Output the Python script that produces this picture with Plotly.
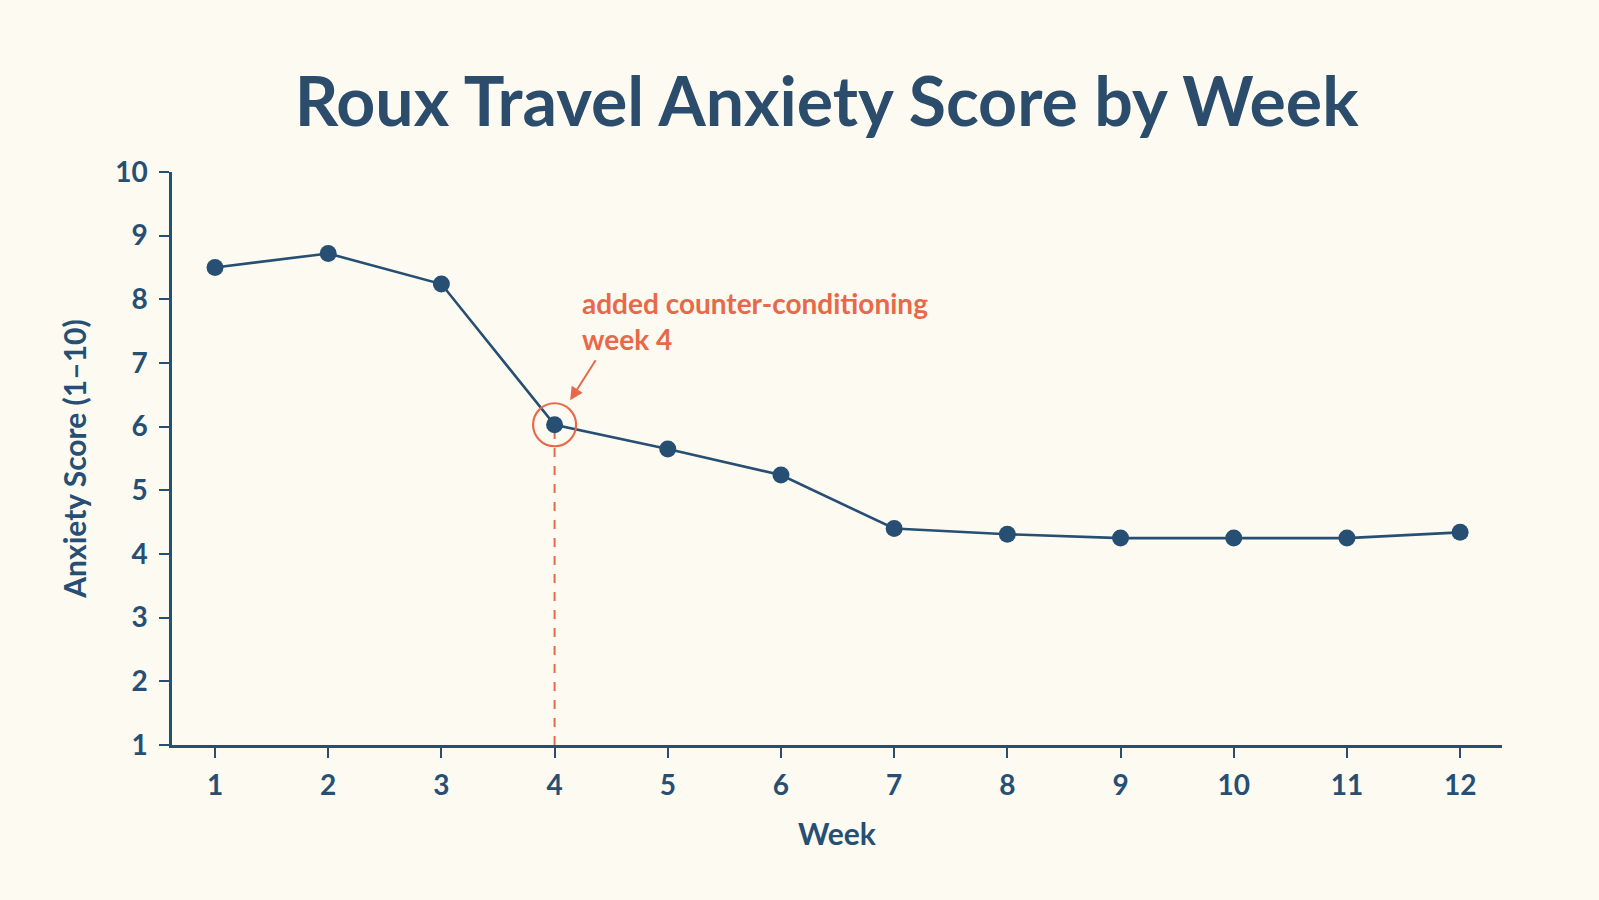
"""Line chart: weekly travel anxiety score for Roux."""
import plotly.graph_objects as go

weeks = list(range(1, 13))
scores = [8.5, 8.72, 8.24, 6.03, 5.65, 5.24, 4.4, 4.31, 4.25, 4.25, 4.25, 4.34]
y_ticks = list(range(1, 11))

event_week = 4
event_label = "added counter-conditioning<br>week 4"

NAVY = "#264f73"
ORANGE = "#e8694a"
BG = "#fdfaf2"
FONT = "Lato"

event_score = scores[weeks.index(event_week)]

fig = go.Figure()

# dashed marker line from the event point down to the axis
fig.add_shape(
    type="line",
    x0=event_week, x1=event_week,
    y0=y_ticks[0], y1=event_score,
    line=dict(color=ORANGE, width=2, dash="dash"),
    layer="below",
)

fig.add_trace(go.Scatter(
    x=weeks,
    y=scores,
    mode="lines+markers",
    line=dict(color=NAVY, width=2.6),
    marker=dict(color=NAVY, size=17),
    showlegend=False,
))

# ring highlighting the event week
fig.add_trace(go.Scatter(
    x=[event_week],
    y=[event_score],
    mode="markers",
    marker=dict(symbol="circle-open", size=43, color=ORANGE, line=dict(width=2.2)),
    showlegend=False,
))

fig.add_annotation(
    x=event_week, y=event_score,
    text="",
    showarrow=True,
    arrowhead=2, arrowsize=1.3, arrowwidth=2, arrowcolor=ORANGE,
    ax=42, ay=-66,
    standoff=29,
)
fig.add_annotation(
    x=event_week, y=event_score,
    text=event_label,
    showarrow=False,
    xanchor="left", yanchor="bottom", align="left",
    xshift=25, yshift=67,
    font=dict(family=FONT, size=28, color=ORANGE, weight="bold"),
)

fig.update_layout(
    width=1599,
    height=900,
    paper_bgcolor=BG,
    plot_bgcolor=BG,
    margin=dict(l=172, r=97, t=172, b=155),
    title=dict(
        text="Roux Travel Anxiety Score by Week",
        x=0.517, xanchor="center",
        y=0.886, yanchor="middle",
        font=dict(family=FONT, size=68, color="#2b4c6b", weight="bold"),
    ),
    font=dict(family=FONT, color=NAVY),
)

fig.update_xaxes(
    range=[0.62, 12.37],
    tickvals=weeks,
    ticks="outside", ticklen=10, tickwidth=2, tickcolor=NAVY,
    ticklabelstandoff=4,
    showline=True, linecolor=NAVY, linewidth=2.5,
    showgrid=False, zeroline=False,
    tickfont=dict(family=FONT, size=28, color=NAVY, weight="bold"),
    title=dict(text="Week", standoff=24,
               font=dict(family=FONT, size=30, color=NAVY, weight="bold")),
)
fig.update_yaxes(
    range=[1, 10],
    tickvals=y_ticks,
    ticks="outside", ticklen=10, tickwidth=2, tickcolor=NAVY,
    ticklabelstandoff=6,
    showline=True, linecolor=NAVY, linewidth=2.5,
    showgrid=False, zeroline=False,
    tickfont=dict(family=FONT, size=28, color=NAVY, weight="bold"),
    title=dict(text="Anxiety Score (1–10)", standoff=20,
               font=dict(family=FONT, size=30, color=NAVY, weight="bold")),
)

# drop the browser's default page margin so the figure fills the window
fig.write_html(
    "out.html",
    config={"displayModeBar": False},
    post_script="document.body.style.margin = '0';",
)
